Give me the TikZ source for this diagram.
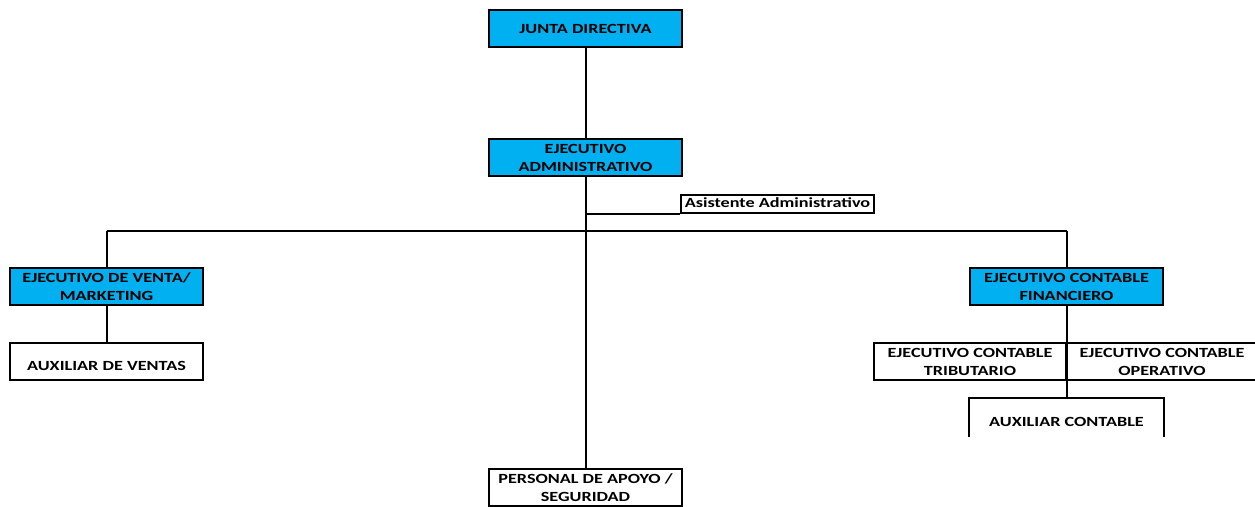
\documentclass[tikz,border=0pt]{standalone}
\usepackage{fontspec}
\setmainfont{Carlito}[FakeStretch=1.3]
\definecolor{boxcyan}{HTML}{00B0F0}
\tikzset{
  x=1pt, y=-1pt,
  conn/.style={line width=2pt},
  orgbox/.style={draw, line width=2pt, anchor=north west, minimum width=193pt, minimum height=37pt,
    inner sep=0pt, align=center, font=\fontsize{14}{18}\selectfont\bfseries},
  cyanbox/.style={orgbox, fill=boxcyan},
  whitebox/.style={orgbox, fill=white},
}
\begin{document}
\begin{tikzpicture}
\useasboundingbox (0,0) rectangle (1255,506);
\clip (0,0) rectangle (1255,506);
\fill[white] (0,0) rectangle (1255,506);
\node[cyanbox] (jd) at (488,9) {JUNTA DIRECTIVA};
\node[cyanbox] (ea) at (488,138) {EJECUTIVO\\ADMINISTRATIVO};
\node[whitebox, minimum height=18pt, text height=10pt, text depth=3pt] (as) at (680,194) {Asistente Administrativo};
\node[cyanbox] (ev) at (9,267) {EJECUTIVO DE VENTA/\\MARKETING};
\node[whitebox] (av) at (9,342) {\mbox{}\\AUXILIAR DE VENTAS};
\node[cyanbox] (ecf) at (969,267) {EJECUTIVO CONTABLE\\FINANCIERO};
\node[whitebox, minimum width=192pt] (ect) at (873,342) {EJECUTIVO CONTABLE\\TRIBUTARIO};
\node[whitebox, minimum width=192pt] (eco) at (1065,342) {EJECUTIVO CONTABLE\\OPERATIVO};
\node[orgbox, draw=none] (ac) at (969,398) {\mbox{}\\AUXILIAR CONTABLE};
\node[whitebox] (pa) at (488,468) {PERSONAL DE APOYO /\\SEGURIDAD};
\coordinate (bl) at (ev.north |- 0,231);
\coordinate (br) at (ecf.north |- 0,231);
\coordinate (asl) at (as.south west -| ea.south);
\draw[conn] (ac.south west) -- (ac.north west) -- (ac.north east) -- (ac.south east);
% lines
\draw[conn] (jd.south) -- (ea.north);
\draw[conn] (ea.south) -- (pa.north);
\draw[conn] (asl) -- (as.south west);
\draw[conn] (bl) -- (br);
\draw[conn] (bl) -- (ev.north);
\draw[conn] (br) -- (ecf.north);
\draw[conn] (ev.south) -- (av.north);
\draw[conn] (ecf.south) -- (ac.north);
\end{tikzpicture}
\end{document}
